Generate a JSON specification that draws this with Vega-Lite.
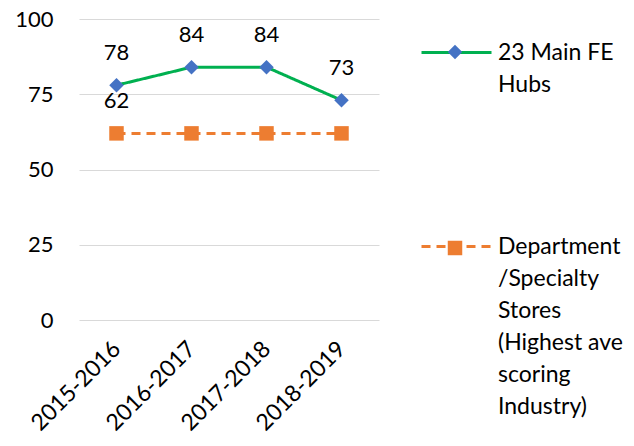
{
  "$schema": "https://vega.github.io/schema/vega-lite/v6.json",
  "width": 300,
  "height": 301,
  "autosize": {"type": "none"},
  "padding": {"left": 79, "top": 19, "right": 255, "bottom": 126},
  "background": "white",
  "config": {"view": {"stroke": null}, "font": "Lato"},
  "data": {"values": [
    {"year": "2015-2016", "series": "23 Main FE Hubs", "value": 78, "labeled": true},
    {"year": "2016-2017", "series": "23 Main FE Hubs", "value": 84, "labeled": true},
    {"year": "2017-2018", "series": "23 Main FE Hubs", "value": 84, "labeled": true},
    {"year": "2018-2019", "series": "23 Main FE Hubs", "value": 73, "labeled": true},
    {"year": "2015-2016", "series": "Department/Specialty Stores (Highest ave scoring Industry)", "value": 62, "labeled": true},
    {"year": "2016-2017", "series": "Department/Specialty Stores (Highest ave scoring Industry)", "value": 62, "labeled": false},
    {"year": "2017-2018", "series": "Department/Specialty Stores (Highest ave scoring Industry)", "value": 62, "labeled": false},
    {"year": "2018-2019", "series": "Department/Specialty Stores (Highest ave scoring Industry)", "value": 62, "labeled": false}
  ]},
  "encoding": {
    "x": {
      "field": "year", "type": "ordinal",
      "scale": {"type": "point", "padding": 0.5},
      "axis": {"title": null, "domain": false, "ticks": false, "grid": false, "labelAngle": -45, "labelAlign": "right", "labelBaseline": "middle", "labelPadding": 25, "labelFont": "Lato", "labelFontSize": 23, "labelColor": "black"}
    },
    "y": {
      "field": "value", "type": "quantitative",
      "scale": {"domain": [0, 100], "nice": false},
      "axis": {"title": null, "domain": false, "ticks": false, "values": [0, 25, 50, 75, 100], "grid": true, "gridColor": "#D9D9D9", "gridWidth": 1, "labelPadding": 26, "labelFont": "Lato", "labelFontSize": 22, "labelColor": "black"}
    }
  },
  "layer": [
    {
      "mark": {"type": "line", "strokeWidth": 3},
      "encoding": {
        "stroke": {
          "field": "series", "type": "nominal",
          "scale": {"domain": ["23 Main FE Hubs", "Department/Specialty Stores (Highest ave scoring Industry)"], "range": ["#00B050", "#ED7D31"]},
          "legend": {"orient": "none", "legendX": 341, "legendY": -3, "title": null, "symbolType": "stroke", "symbolSize": 4900, "symbolStrokeWidth": 3, "labelFont": "Lato", "labelFontSize": 23, "labelColor": "black", "labelOffset": 5, "labelLimit": 220, "rowPadding": 113, "labelBaseline": "top",
            "labelExpr": "datum.label == '23 Main FE Hubs' ? ['23 Main FE', 'Hubs'] : ['Department', '/Specialty', 'Stores', '(Highest ave', 'scoring', 'Industry)']",
            "encode": {"labels": {"update": {"lineHeight": {"value": 32}, "dy": {"value": -11}}}}}
        },
        "strokeDash": {
          "field": "series", "type": "nominal",
          "scale": {"domain": ["23 Main FE Hubs", "Department/Specialty Stores (Highest ave scoring Industry)"], "range": [[1, 0], [9, 6]]},
          "legend": {"orient": "none", "legendX": 341, "legendY": -3, "title": null}
        }
      }
    },
    {
      "transform": [{"calculate": "datum.series", "as": "series_pt"}],
      "mark": {"type": "point", "filled": true, "opacity": 1, "size": 210},
      "encoding": {
        "fill": {
          "field": "series_pt", "type": "nominal",
          "scale": {"range": ["#4472C4", "#ED7D31"]},
          "legend": {"orient": "none", "legendX": 365, "legendY": 22, "title": null, "symbolSize": 210, "symbolStrokeWidth": 0, "symbolOpacity": 1, "labelFontSize": 22, "labelOffset": 0, "rowPadding": 174, "labelExpr": "''"}
        },
        "shape": {
          "field": "series_pt", "type": "nominal",
          "scale": {"range": ["diamond", "square"]},
          "legend": {"orient": "none", "legendX": 365, "legendY": 22, "title": null}
        }
      }
    },
    {
      "transform": [{"filter": "datum.labeled"}],
      "mark": {"type": "text", "dy": -32, "fontSize": 22, "font": "Lato", "color": "black"},
      "encoding": {"text": {"field": "value", "type": "quantitative"}}
    }
  ]
}
